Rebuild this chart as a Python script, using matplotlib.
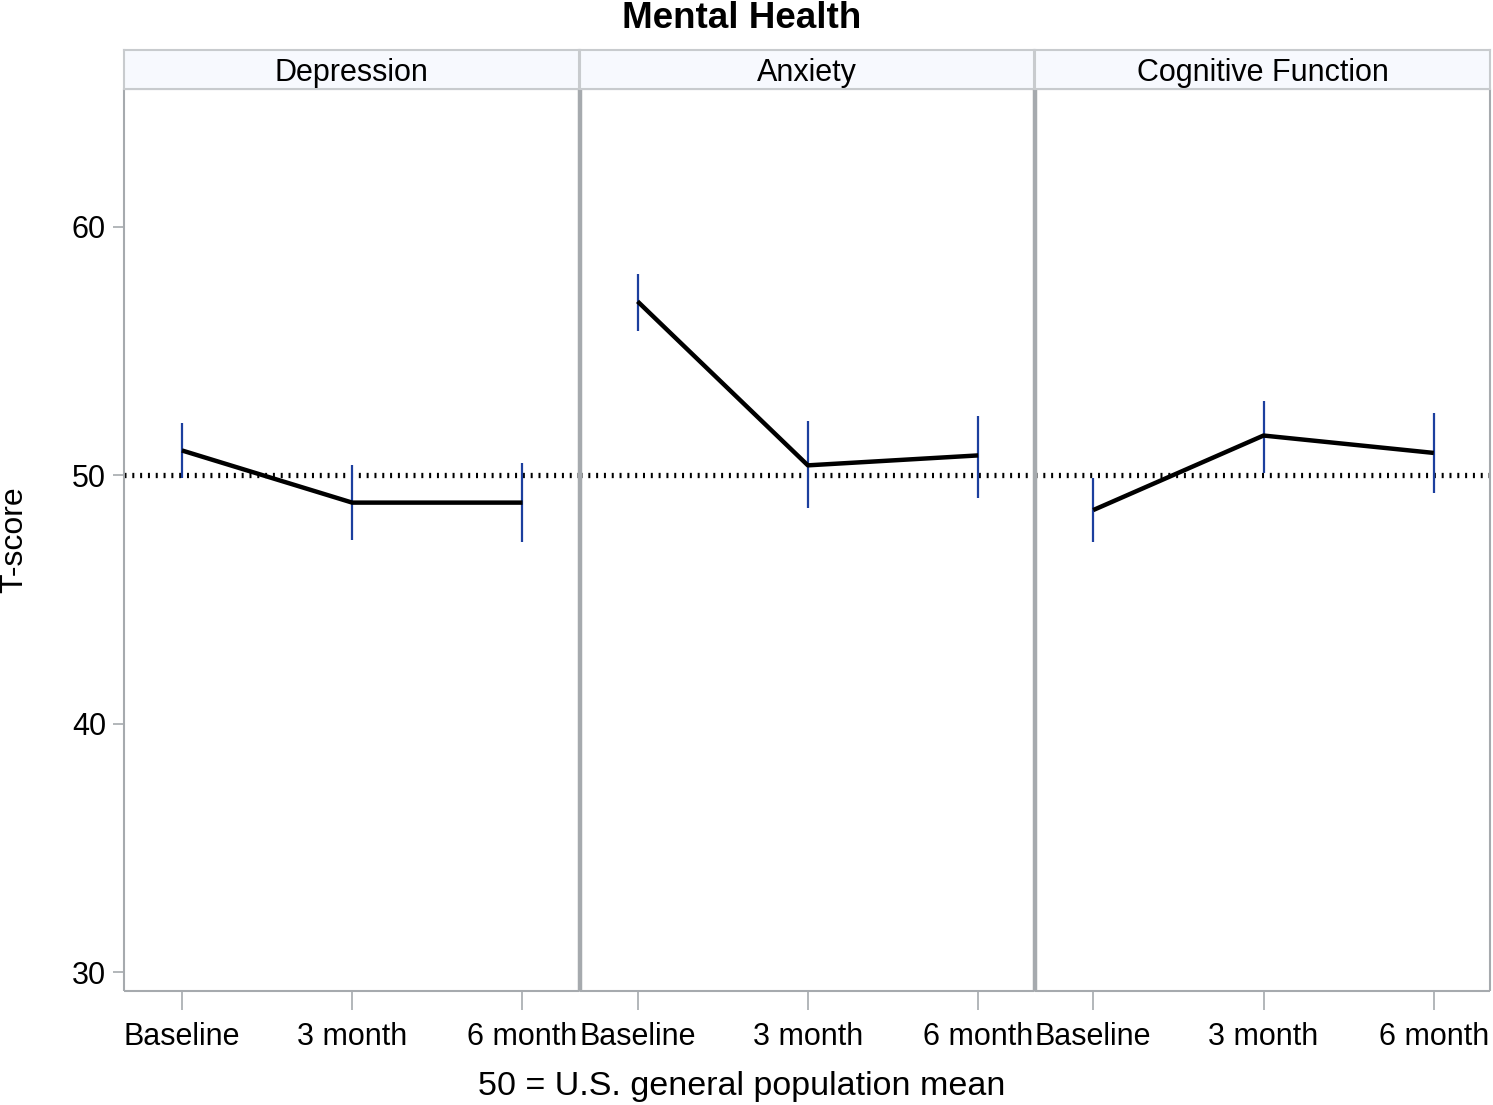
import matplotlib.pyplot as plt
import numpy as np

plt.rcParams["font.family"] = ["Liberation Sans", "DejaVu Sans"]

panels = ["Depression", "Anxiety", "Cognitive Function"]
timepoints = ["Baseline", "3 month", "6 month"]

# mean T-scores and error bar limits, per panel
means = [
    [51.0, 48.9, 48.9],
    [57.0, 50.4, 50.8],
    [48.6, 51.6, 50.9],
]
lower = [
    [49.9, 47.4, 47.3],
    [55.8, 48.7, 49.1],
    [47.3, 50.1, 49.3],
]
upper = [
    [52.1, 50.4, 50.5],
    [58.1, 52.2, 52.4],
    [49.9, 53.0, 52.5],
]
ref_value = 50
yticks = [30, 40, 50, 60]

grey = "#a6aaae"
W, H = 1493, 1105
fig = plt.figure(figsize=(W / 100, H / 100), dpi=100)

left_px, right_px = 124, 1491
top_px, bottom_px = 89, 991
strip_top = 50
pw = (right_px - left_px) / 3

x = np.arange(len(timepoints))
for i, name in enumerate(panels):
    x0 = left_px + i * pw
    ax = fig.add_axes([x0 / W, 1 - bottom_px / H, (pw - 1) / W, (bottom_px - top_px) / H])
    m = np.array(means[i])
    lo = np.array(lower[i])
    hi = np.array(upper[i])
    ax.axhline(ref_value, color="black", lw=3.8, linestyle=(0, (0.38, 1.1)), zorder=1)
    ax.plot(x, m, color="black", lw=3.2, zorder=3, solid_capstyle="butt")
    ax.vlines(x, lo, hi, color="#1c3f9e", lw=1.6, zorder=2)
    ax.set_xlim(-0.34, 2.33)
    ax.set_ylim(29.24, 65.55)
    ax.set_xticks(x)
    ax.set_xticklabels(timepoints, fontsize=22)
    ax.tick_params(axis="x", length=14, width=1.2, color=grey, pad=8)
    if i == 0:
        ax.set_yticks(yticks)
        ax.tick_params(axis="y", labelsize=22, length=8, width=1.2, color=grey, pad=5)
    else:
        ax.set_yticks([])
    for side, sp in ax.spines.items():
        sp.set_color(grey)
        sp.set_linewidth(1.5)
        sp.set_capstyle("butt")
    if i > 0:
        ax.spines["left"].set_linewidth(2.5)
    if i < 2:
        ax.spines["right"].set_linewidth(2.5)

    sax = fig.add_axes([x0 / W, 1 - top_px / H, (pw - 1) / W, (top_px - strip_top) / H])
    sax.set_facecolor("#f7f9fe")
    sax.set_xticks([])
    sax.set_yticks([])
    for sp in sax.spines.values():
        sp.set_color("#c8cbce")
        sp.set_linewidth(1.5)
    sax.text(0.5, 0.42, name, ha="center", va="center", fontsize=22, transform=sax.transAxes)

fig.text(14 / W, 1 - 540 / H, "T-score", ha="center", va="center", rotation=90, fontsize=23)
fig.text(742 / W, 1 - 18 / H, "Mental Health", ha="center", va="center",
         fontsize=26.5, fontweight="bold")
fig.text(742 / W, 1 - 1086 / H, "50 = U.S. general population mean", ha="center",
         va="center", fontsize=24.5)

fig.savefig("out.png", dpi=100)
